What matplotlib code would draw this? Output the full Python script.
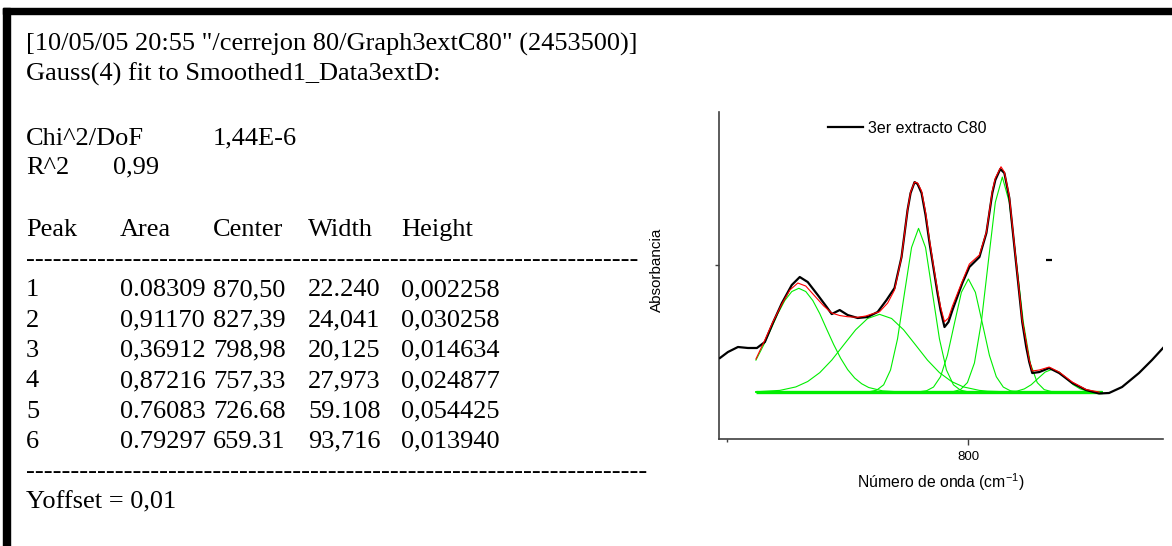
import matplotlib
matplotlib.use("Agg")
import matplotlib.pyplot as plt
from matplotlib.patches import Rectangle

# ---------------- text block data ----------------
title_lines = ['[10/05/05 20:55 "/cerrejon 80/Graph3extC80" (2453500)]',
               'Gauss(4) fit to Smoothed1_Data3extD:']
stat_labels = ['Chi^2/DoF', 'R^2']
stat_values = ['1,44E-6', '0,99']
table_columns = ['Peak', 'Area', 'Center', 'Width', 'Height']
peak_ids = ['1', '2', '3', '4', '5', '6']
areas = ['0.08309', '0,91170', '0,36912', '0,87216', '0.76083', '0.79297']
centers = ['870,50', '827,39', '798,98', '757,33', '726.68', '659.31']
widths = ['22.240', '24,041', '20,125', '27,973', '59.108', '93,716']
heights = ['0,002258', '0,030258', '0,014634', '0,024877', '0,054425', '0,013940']
yoffset_text = 'Yoffset = 0,01'

# ---------------- chart data ----------------
legend_label = '3er extracto C80'
x_label = 'Número de onda (cm$^{-1}$)'
y_label = 'Absorbancia'
x_major_ticks = [800]
x_major_labels = ['800']
x_minor_ticks = [600]
y_ticks = [0.028]

spectrum_x = [594.2, 600.8, 609.1, 617.4, 624.8, 631.4, 638.0, 645.5, 653.7, 660.3,
              666.9, 675.2, 682.6, 686.8, 690.1, 693.4, 700.0, 708.3, 716.5, 724.8,
              732.2, 738.8, 744.6, 749.6, 752.1, 755.4, 757.9, 761.2, 764.5, 767.8,
              771.1, 774.4, 776.9, 780.2, 783.5, 786.8, 795.0, 800.8, 809.1, 814.9,
              819.8, 822.3, 826.4, 829.8, 833.9, 838.8, 842.1, 844.6, 847.9, 850.4,
              852.9, 858.7, 866.9, 875.2, 886.0, 897.5, 908.3, 916.5, 927.3, 941.3,
              952.1, 961.2]
spectrum_y = [0.01482, 0.01567, 0.01638, 0.01624, 0.01624, 0.01709, 0.01978, 0.02261, 0.02517, 0.02630,
              0.02559, 0.02375, 0.02205, 0.02105, 0.02134, 0.02162, 0.02091, 0.02049, 0.02063, 0.02134,
              0.02304, 0.02474, 0.02913, 0.03579, 0.03820, 0.03976, 0.03948, 0.03820, 0.03509, 0.03112,
              0.02757, 0.02403, 0.02162, 0.01921, 0.01992, 0.02162, 0.02545, 0.02772, 0.02913, 0.03254,
              0.03820, 0.04005, 0.04161, 0.04104, 0.03750, 0.02942, 0.02403, 0.01992, 0.01638, 0.01425,
              0.01269, 0.01283, 0.01340, 0.01269, 0.01128, 0.01028, 0.00979, 0.00986, 0.01071, 0.01269,
              0.01454, 0.01624]

fit_x = [624.0, 631.4, 638.0, 645.5, 652.1, 658.7, 665.3, 672.7, 680.2, 686.8,
         693.4, 700.0, 708.3, 714.9, 719.8, 726.4, 733.1, 738.8, 744.6, 749.6,
         752.1, 755.4, 757.9, 761.2, 764.5, 767.8, 771.1, 774.4, 776.9, 780.2,
         783.5, 786.8, 795.0, 800.8, 809.1, 814.9, 819.8, 822.3, 827.0, 829.8,
         833.9, 838.8, 844.6, 847.9, 850.4, 852.9, 858.7, 866.9, 875.2, 886.0,
         897.5, 908.3]
fit_y = [0.01468, 0.01737, 0.01992, 0.02247, 0.02446, 0.02545, 0.02502, 0.02361, 0.02219, 0.02120,
         0.02084, 0.02067, 0.02059, 0.02077, 0.02105, 0.02138, 0.02261, 0.02446, 0.02913, 0.03579,
         0.03835, 0.03976, 0.03962, 0.03849, 0.03551, 0.03154, 0.02786, 0.02446, 0.02209, 0.01996,
         0.02049, 0.02219, 0.02573, 0.02814, 0.02942, 0.03268, 0.03849, 0.04033, 0.04193, 0.04118,
         0.03778, 0.02970, 0.02020, 0.01709, 0.01454, 0.01298, 0.01312, 0.01354, 0.01283, 0.01142,
         0.01035, 0.01000]

peak6_x = [624.0, 630.6, 636.4, 642.1, 647.9, 653.7, 659.5, 665.3, 671.1, 676.9,
           682.6, 688.4, 694.2, 700.0, 705.8, 711.6, 717.4, 728.9, 742.1, 910.7]
peak6_y = [0.01452, 0.01673, 0.01891, 0.02110, 0.02297, 0.02424, 0.02470, 0.02424, 0.02297, 0.02110,
           0.01891, 0.01673, 0.01478, 0.01317, 0.01198, 0.01117, 0.01064, 0.01016, 0.01003, 0.01000]
peak5_x = [624.0, 643.8, 657.0, 666.9, 676.9, 686.8, 696.7, 706.6, 716.5, 726.4, 736.4,
           746.3, 756.2, 766.1, 776.0, 786.0, 795.9, 809.1, 815.7, 833.9, 910.7]
peak5_y = [0.01003, 0.01023, 0.01072, 0.01149, 0.01275, 0.01452, 0.01668, 0.01882, 0.02042, 0.02101, 0.02042,
           0.01882, 0.01668, 0.01452, 0.01275, 0.01149, 0.01072, 0.01023, 0.01012, 0.01002, 0.01000]
peak4_x = [624.0, 718.2, 724.0, 729.8, 735.5, 741.3, 747.1, 752.9, 758.7, 764.5,
           770.2, 776.0, 781.8, 787.6, 793.4, 799.2, 910.7]
peak4_y = [0.01000, 0.01005, 0.01026, 0.01102, 0.01313, 0.01754, 0.02407, 0.03048, 0.03320, 0.03048,
           0.02407, 0.01754, 0.01313, 0.01102, 0.01026, 0.01005, 0.01000]
peak3_x = [624.0, 759.5, 765.3, 771.1, 776.9, 782.6, 788.4, 794.2, 800.0, 805.8,
           811.6, 817.4, 823.1, 828.9, 834.7, 840.5, 910.7]
peak3_y = [0.01000, 0.01004, 0.01018, 0.01070, 0.01217, 0.01520, 0.01971, 0.02413, 0.02602, 0.02413,
           0.01971, 0.01520, 0.01217, 0.01070, 0.01018, 0.01004, 0.01000]
peak2_x = [624.0, 787.6, 793.4, 799.2, 805.0, 810.7, 816.5, 822.3, 828.1, 833.9,
           839.7, 845.5, 851.2, 857.0, 862.8, 868.6, 910.7]
peak2_y = [0.01000, 0.01007, 0.01034, 0.01134, 0.01412, 0.01989, 0.02848, 0.03689, 0.04047, 0.03689,
           0.02848, 0.01989, 0.01412, 0.01134, 0.01034, 0.01007, 0.01000]
peak1_x = [624.0, 834.7, 840.5, 846.3, 852.1, 857.9, 863.6, 869.4, 875.2, 881.0,
           886.8, 892.6, 898.3, 904.1, 910.7]
peak1_y = [0.01000, 0.01004, 0.01014, 0.01044, 0.01104, 0.01196, 0.01283, 0.01322, 0.01283, 0.01196,
           0.01104, 0.01044, 0.01014, 0.01004, 0.01000]
baseline_x = [624.0, 910.7]
baseline_y = [0.01, 0.01]
stray_mark_x = [866.5]
stray_mark_y = [0.02878]

x_limits = (593.4, 961.2)
y_limits = (0.00334, 0.04969)

# ---------------- figure ----------------
W, H, DPI = 1172, 546, 100
fig = plt.figure(figsize=(W / DPI, H / DPI), dpi=DPI)


def fx(px):
    return px / W


def fy(py):
    return 1 - py / H


# frame bars (top and left)
fig.patches.append(Rectangle((fx(3), fy(14)), fx(1172 - 3), 6 / H, transform=fig.transFigure,
                             color='black', zorder=0))
fig.patches.append(Rectangle((fx(3), 0), 7 / W, fy(8), transform=fig.transFigure,
                             color='black', zorder=0))

FS = 19.0                       # points
EM = FS * DPI / 72.0            # pixels per em
X0 = 26
LINE = 30.3
serif = dict(family='Liberation Serif', fontsize=FS, va='baseline', ha='left', color='black')


def baseline(center):
    return fy(center + 0.33 * EM)


TOP = 42
fig.text(fx(X0), baseline(TOP), title_lines[0], **serif)
fig.text(fx(X0), baseline(TOP + 29.5), title_lines[1], **serif)
fig.text(fx(X0), baseline(136), stat_labels[0], **serif)
fig.text(fx(X0 + 7.09 * EM), baseline(136), stat_values[0], **serif)
fig.text(fx(X0), baseline(165), stat_labels[1], **serif)
fig.text(fx(X0 + 3.29 * EM), baseline(165), stat_values[1], **serif)

col_x = [X0 + k * EM for k in (0.0, 3.57, 7.1, 10.7, 14.2)]
header_c = 227
for cx, name in zip(col_x, table_columns):
    fig.text(fx(cx), baseline(header_c), name, **serif)
fig.text(fx(X0), fy(header_c + LINE + 2 + 0.25 * EM), '-' * 69, **serif)
for i, (pid, a, c, w_, h_) in enumerate(zip(peak_ids, areas, centers, widths, heights)):
    ry = header_c + (2 + i) * LINE
    for cx, s in zip(col_x, [pid, a, c, w_, h_]):
        fig.text(fx(cx), baseline(ry), s, **serif)
fig.text(fx(X0), fy(header_c + 8 * LINE + 2 + 0.25 * EM), '-' * 70, **serif)
fig.text(fx(X0), baseline(header_c + 9 * LINE), yoffset_text, **serif)

# ---------------- chart ----------------
plt.rcParams['mathtext.fontset'] = 'custom'
plt.rcParams['mathtext.rm'] = 'Liberation Sans'
plt.rcParams['mathtext.it'] = 'Liberation Sans:italic'

AX_L, AX_R, AX_T, AX_B = 719, 1163, 112, 439
ax = fig.add_axes([fx(AX_L), fy(AX_B), (AX_R - AX_L) / W, (AX_B - AX_T) / H])
green = '#00ee00'
for gx, gy in [(peak6_x, peak6_y), (peak5_x, peak5_y), (peak4_x, peak4_y),
               (peak3_x, peak3_y), (peak2_x, peak2_y), (peak1_x, peak1_y)]:
    ax.plot(gx, gy, color=green, lw=0.8, zorder=2)
ax.plot(baseline_x, baseline_y, color=green, lw=2.4, zorder=2, solid_capstyle='butt')
ax.plot(spectrum_x, spectrum_y, color='black', lw=1.6, zorder=3, label=legend_label)
ax.plot(fit_x, fit_y, color='#ff0000', lw=0.8, zorder=4)
ax.plot(stray_mark_x, stray_mark_y, marker='_', ms=5, mew=1.6, color='black', ls='none', zorder=4)

ax.set_xlim(*x_limits)
ax.set_ylim(*y_limits)
ax.set_xticks(x_major_ticks)
ax.set_xticklabels(x_major_labels)
ax.set_xticks(x_minor_ticks, minor=True)
ax.set_yticks(y_ticks)
ax.set_yticklabels([])
for side in ('top', 'right'):
    ax.spines[side].set_visible(False)
for side in ('left', 'bottom'):
    ax.spines[side].set_color('#404040')
    ax.spines[side].set_linewidth(1.2)
ax.tick_params(axis='x', which='major', direction='out', length=4.5, width=1, color='#404040',
               labelsize=9.5, pad=4)
ax.tick_params(axis='x', which='minor', direction='out', length=2.5, width=1, color='#404040')
ax.tick_params(axis='y', which='major', direction='out', length=3, width=1, color='#404040')
for lab in ax.get_xticklabels():
    lab.set_family('Liberation Sans')

ax.set_xlabel(x_label, family='Liberation Sans', fontsize=11.3)
ax.xaxis.set_label_coords(0.5, (AX_B - 482) / (AX_B - AX_T))
ax.xaxis.label.set_va('center')
ax.set_ylabel(y_label, family='Liberation Sans', fontsize=11)
ax.yaxis.set_label_coords((657 - AX_L) / (AX_R - AX_L), 0.517)
ax.yaxis.label.set_va('center')

EM_L = 11.5 * DPI / 72.0
ax.legend(loc='center left',
          bbox_to_anchor=((828 - AX_L) / (AX_R - AX_L), (AX_B - 128.5) / (AX_B - AX_T)),
          frameon=False, borderpad=0, borderaxespad=0, handlelength=35 / EM_L,
          handletextpad=5 / EM_L, prop={'family': 'Liberation Sans', 'size': 11.5})

fig.savefig('out.png', dpi=DPI)
